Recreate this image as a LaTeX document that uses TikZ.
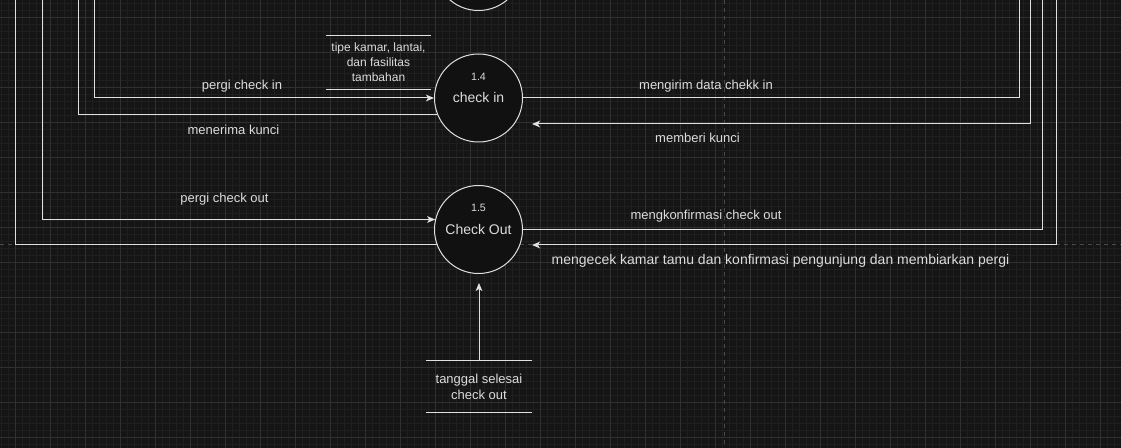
\documentclass[tikz,border=0pt]{standalone}
\usepackage{fontspec}
\setmainfont{Liberation Sans}
\usetikzlibrary{arrows.meta,positioning}
\definecolor{bg}{HTML}{151515}
\definecolor{minorc}{HTML}{1F1F1F}
\definecolor{majorc}{HTML}{303030}
\definecolor{pagec}{HTML}{4A4A4A}
\definecolor{wirec}{HTML}{E0E0E0}
\definecolor{txt}{HTML}{DCDCDC}

\begin{document}
\begin{tikzpicture}[x=0.75pt,y=-0.75pt,
    proc/.style={circle,draw=wirec,fill=bg!80!black,line width=0.75pt,minimum size=66pt,inner sep=0pt,text=txt,font=\fontsize{10.5}{12}\selectfont},
    num/.style={text=txt,inner sep=0pt,font=\fontsize{8}{9}\selectfont},
    lbl/.style={text=txt,inner sep=0pt,font=\fontsize{9.75}{11}\selectfont},
    store/.style={minimum width=78.75pt,inner sep=0pt,align=center,text=txt},
    wire/.style={draw=wirec,line width=0.75pt},
    flow/.style={wire,-{Stealth[length=6pt,width=5pt,inset=1.5pt]}},
    page/.style={draw=pagec,line width=0.75pt,dash pattern=on 3pt off 3pt}
  ]
  \useasboundingbox (0,0) rectangle (1121,448);
  \clip (0,0) rectangle (1121,448);
  \fill[bg] (0,0) rectangle (1121,448);
  \foreach \x in {1,8,...,1121} \draw[minorc,line width=0.75pt] (\x,0) -- (\x,448);
  \foreach \y in {4,11,...,448} \draw[minorc,line width=0.75pt] (0,\y) -- (1121,\y);
  \foreach \x in {15,50,...,1121} \draw[majorc,line width=0.75pt] (\x,0) -- (\x,448);
  \foreach \y in {18,53,...,448} \draw[majorc,line width=0.75pt] (0,\y) -- (1121,\y);
  \draw[page] (724,0) -- (724,448);
  \draw[page] (0,245) -- (1121,245);

  \node[proc] (p3) at (478.5,-33.5) {};
  \node[proc] (p4) at (478.5,98) {check in};
  \node[proc] (p5) at (478.5,229.5) {Check Out};
  \node[num] (p4num) at (478.5,76.5) {1.4};
  \node[num] (p5num) at (478.5,207.5) {1.5};

  \node[store,minimum height=39.75pt,font=\fontsize{9}{11.25}\selectfont] (ds1) at (378.5,62.5) {tipe kamar, lantai,\\dan fasilitas\\tambahan};
  \node[store,minimum height=39pt,font=\fontsize{9.75}{12}\selectfont] (ds2) at (479,386.5) {tanggal selesai\\check out};
  \draw[wire] (ds1.north west) -- (ds1.north east);
  \draw[wire] (ds1.south west) -- (ds1.south east);
  \draw[wire] (ds2.north west) -- (ds2.north east);
  \draw[wire] (ds2.south west) -- (ds2.south east);

  \coordinate (ci) at (94,0);
  \coordinate (mk) at (78,0);
  \coordinate (co) at (42,0);
  \coordinate (cm) at (15,0);
  \coordinate (md) at (1019,0);
  \coordinate (mb) at (1030,0);
  \coordinate (mc) at (1042,0);
  \coordinate (me) at (1056,0);
  \coordinate (mbend) at (532,124);
  \coordinate (meend) at (532,245);
  \coordinate (ds2end) at (479,283);

  \draw[flow] (ci) |- (p4);
  \draw[wire] (p4.202.7) -| (mk);
  \draw[flow] (co) |- (p5.167.5);
  \draw[wire] (p5.200.6) -| (cm);
  \draw[wire] (p4) -| (md);
  \draw[flow] (mb) |- (mbend);
  \draw[wire] (p5) -| (mc);
  \draw[flow] (me) |- (meend);
  \draw[flow] (ds2) -- (ds2end);

  \node[lbl] (l1) at (242,86) {pergi check in};
  \node[lbl] (l2) at (233.5,130) {menerima kunci};
  \node[lbl] (l3) at (224.5,199) {pergi check out};
  \node[lbl] (l4) at (706,86) {mengirim data chekk in};
  \node[lbl] (l5) at (697.5,138) {memberi kunci};
  \node[lbl] (l6) at (706,216) {mengkonfirmasi check out};
  \node[lbl,font=\fontsize{10.5}{12}\selectfont] (l7) at (780.5,260.5) {mengecek kamar tamu dan konfirmasi pengunjung dan membiarkan pergi};
\end{tikzpicture}
\end{document}
